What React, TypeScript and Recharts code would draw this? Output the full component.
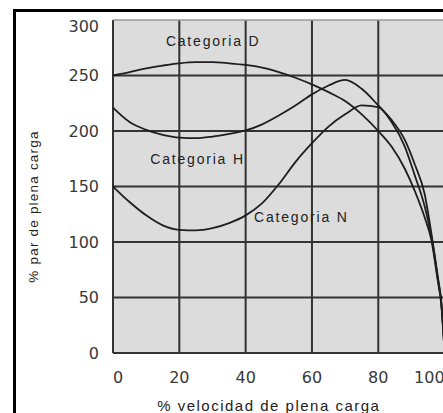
import {
  CartesianGrid,
  Line,
  LineChart,
  ReferenceDot,
  ReferenceLine,
  XAxis,
  YAxis,
} from "recharts";

// % velocidad de plena carga (sample points along the x axis)
const SPEED = [0, 5, 10, 15, 20, 25, 30, 35, 40, 45, 50, 55, 60, 65, 70, 75, 80, 84, 88, 91, 94, 96, 98, 99, 100];

// % par de plena carga for each NEMA design category
const CAT_D = [250, 253, 256.5, 259, 261, 262, 262, 261, 259.5, 257, 253, 248, 242, 235, 227, 215, 200, 186, 166, 146, 122, 102, 64, 44, 0];
const CAT_H = [221, 208, 201, 196.5, 194, 193.5, 195, 197.5, 200.5, 206, 214, 223, 233, 241, 246, 238, 223, 210, 192, 170, 143, 108, 68, 46, 0];
const CAT_N = [150, 136, 124, 115, 111, 110.5, 112.5, 117, 124, 135, 152, 172, 189, 204, 215, 223, 221.5, 208, 186, 160, 132, 105, 66, 45, 0];

const X_TICKS = [0, 20, 40, 60, 80, 100];
const Y_TICKS = [0, 50, 100, 150, 200, 250, 300];

// where the category names sit, in data units
const NOTES = [
  { label: "Categoria D", x: 30.2, y: 281 },
  { label: "Categoria H", x: 25.5, y: 175 },
  { label: "Categoria N", x: 56.8, y: 122.5 },
];

const rows = SPEED.map((s, i) => ({ speed: s, D: CAT_D[i], H: CAT_H[i], N: CAT_N[i] }));

const TICK_FONT = "'DejaVu Sans', sans-serif";
const TEXT_FONT = "'Liberation Sans', Arial, sans-serif";
const INK = "#1e1e1e";

function XTick({ x, y, payload }: any) {
  const v = payload.value;
  const anchor = v === 0 ? "start" : v === 100 ? "end" : "middle";
  return (
    <text x={x} y={y + 16} textAnchor={anchor} dominantBaseline="central" fill="#383838" fontSize={16} fontFamily={TICK_FONT}>
      {v}
    </text>
  );
}

function YTick({ x, y, payload }: any) {
  const v = payload.value;
  return (
    <text x={x - 6} y={y + (v === 300 ? 6 : 0)} textAnchor="end" dominantBaseline="central" fill="#383838" fontSize={16} fontFamily={TICK_FONT}>
      {v}
    </text>
  );
}

function YTitle({ viewBox }: any) {
  const cx = viewBox.x + 33;
  const cy = viewBox.y + viewBox.height / 2 + 20;
  return (
    <text
      x={cx}
      y={cy}
      transform={`rotate(-90 ${cx} ${cy})`}
      textAnchor="middle"
      dominantBaseline="central"
      fill="#222"
      fontSize={13.5}
      fontFamily={TEXT_FONT}
      letterSpacing={1.2}
    >
      % par de plena carga
    </text>
  );
}

function XTitle({ viewBox }: any) {
  const cx = viewBox.x + viewBox.width / 2 - 10;
  const cy = viewBox.y + 52;
  return (
    <text x={cx} y={cy} textAnchor="middle" dominantBaseline="central" fill="#222" fontSize={15} fontFamily={TEXT_FONT} letterSpacing={1.5}>
      % velocidad de plena carga
    </text>
  );
}

const note = (text: string) => (props: any) => {
  const { viewBox } = props;
  const cx = viewBox.x + viewBox.width / 2;
  const cy = viewBox.y + viewBox.height / 2;
  return (
    <text x={cx} y={cy} textAnchor="middle" dominantBaseline="central" fill="#222" fontSize={14} fontFamily={TEXT_FONT} letterSpacing={1.8}>
      {text}
    </text>
  );
};

export default function App() {
  return (
    <div style={{ position: "fixed", left: 0, top: 0, width: 443, height: 413, overflow: "hidden", background: "#fff" }}>
      {/* page frame, only its top-left corner shows */}
      <div
        style={{
          position: "absolute",
          left: 13,
          top: 9,
          width: 600,
          height: 600,
          borderLeft: "3px solid #000",
          borderTop: "3px solid #000",
        }}
      />
      <div style={{ position: "absolute", left: 0, top: 0 }}>
        <LineChart width={470} height={413} data={rows} margin={{ top: 20, right: 25.4, bottom: 0, left: 0 }}>
          <CartesianGrid
            fill="#dcdcdc"
            fillOpacity={1}
            stroke="#333"
            strokeWidth={2}
            horizontalValues={[0, 50, 100, 150, 200, 250]}
            verticalValues={X_TICKS}
          />
          <ReferenceLine y={300} stroke="#9a9a9a" strokeWidth={1.5} />
          <XAxis
            type="number"
            dataKey="speed"
            domain={[0, 100]}
            ticks={X_TICKS}
            axisLine={false}
            tickLine={false}
            height={60}
            tick={<XTick />}
            label={<XTitle />}
          />
          <YAxis
            type="number"
            domain={[0, 300]}
            ticks={Y_TICKS}
            axisLine={false}
            tickLine={false}
            width={113}
            tick={<YTick />}
            label={<YTitle />}
          />
          {["D", "H", "N"].map((k) => (
            <Line
              key={k}
              dataKey={k}
              type="monotone"
              stroke={INK}
              strokeWidth={1.8}
              dot={false}
              activeDot={false}
              isAnimationActive={false}
            />
          ))}
          {NOTES.map((n) => (
            <ReferenceDot key={n.label} x={n.x} y={n.y} r={1} fill="none" stroke="none" label={note(n.label)} />
          ))}
        </LineChart>
      </div>
    </div>
  );
}
